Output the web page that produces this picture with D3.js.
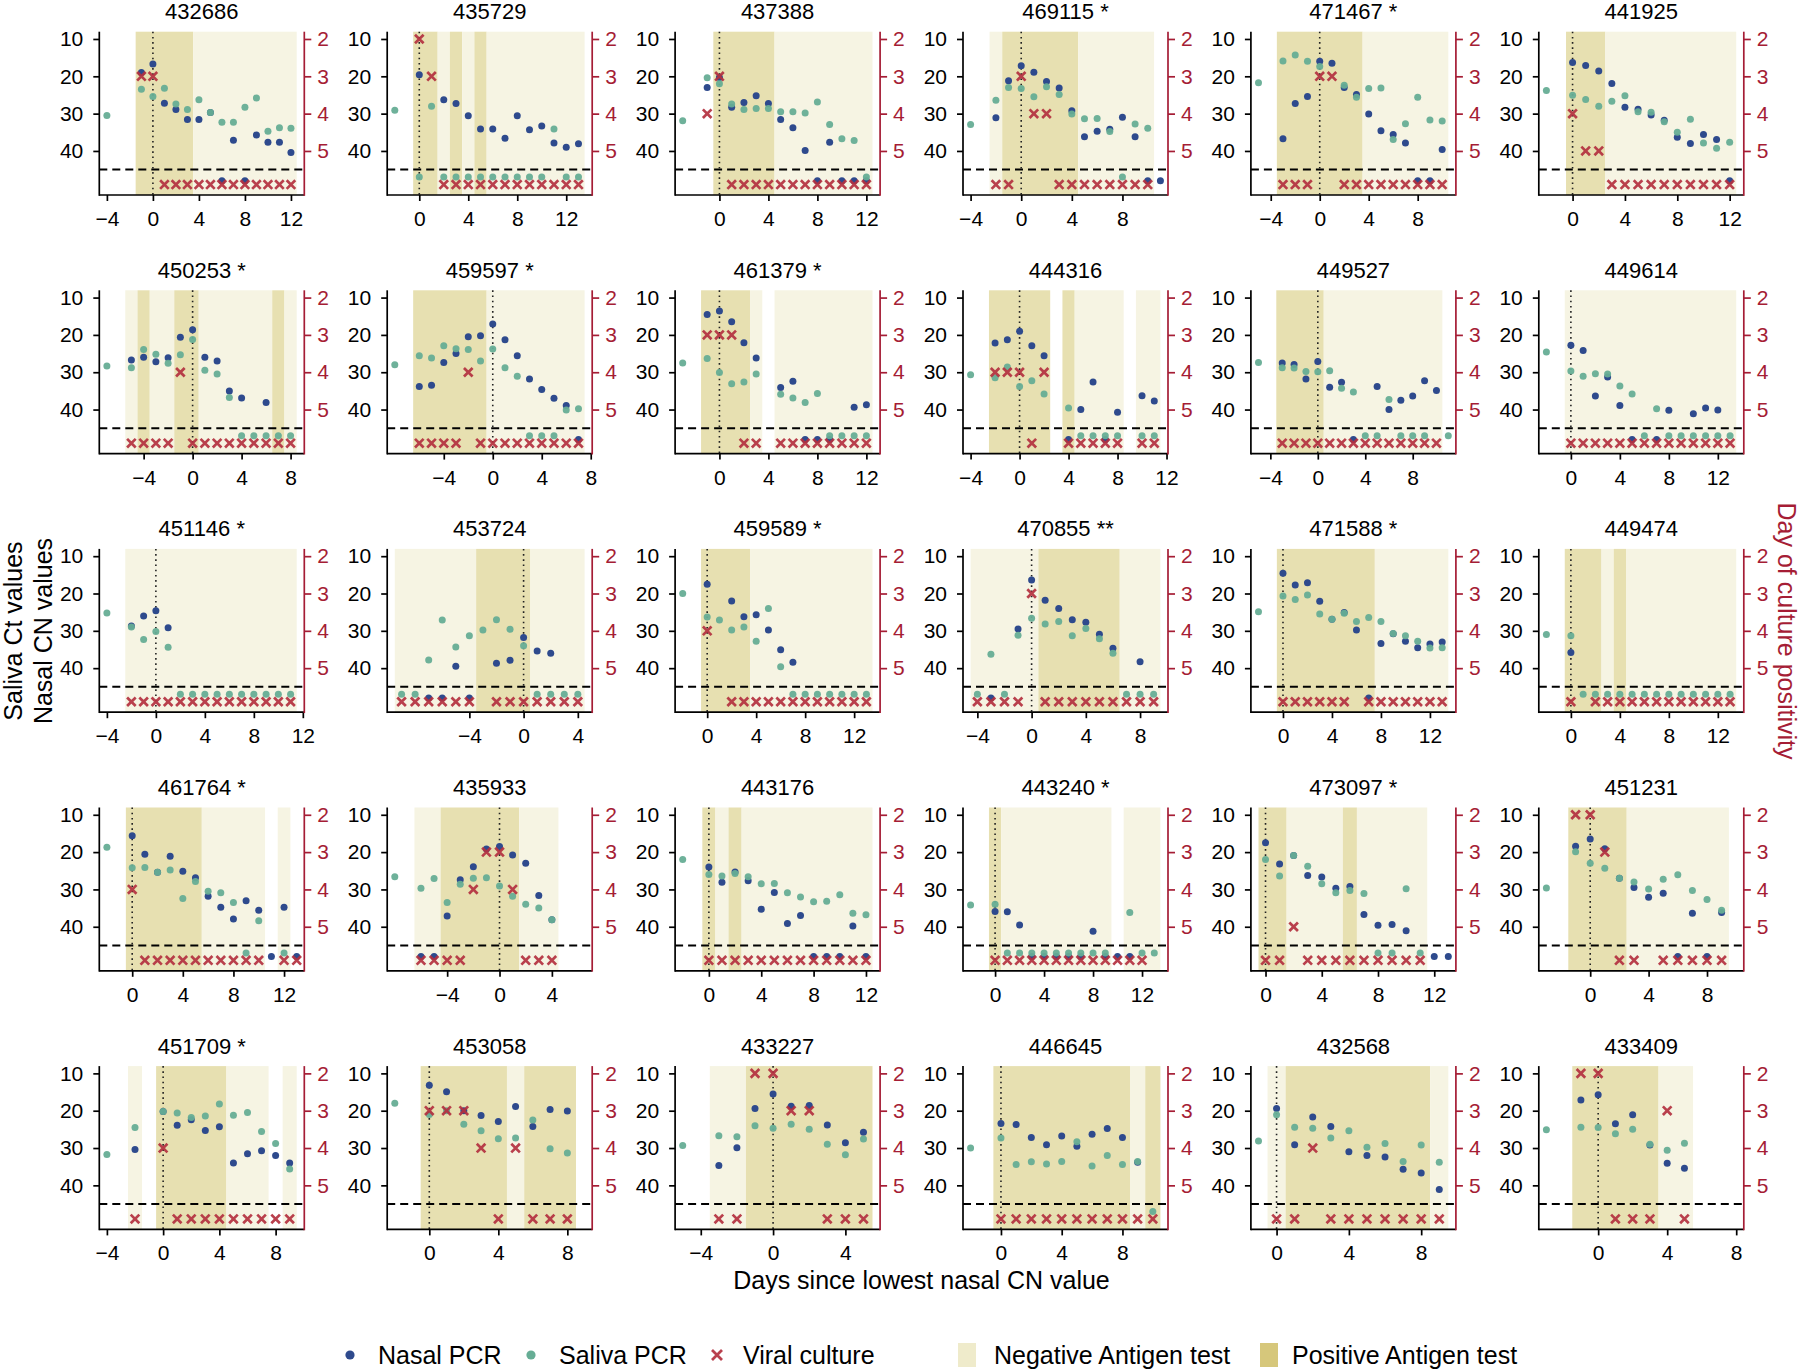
<!DOCTYPE html>
<html>
<head>
<meta charset="utf-8">
<script src="https://cdn.jsdelivr.net/npm/d3@7/dist/d3.min.js"></script>
<style>
  html, body { margin: 0; padding: 0; background: #ffffff; }
  svg { display: block; font-family: "Liberation Sans", Arial, Helvetica, sans-serif; font-weight: 400; }
</style>
</head>
<body>
<svg id="chart" width="1800" height="1369"></svg>
<script>
// ---------------- DATA ----------------
const titles = ["432686","435729","437388","469115 *","471467 *","441925",
  "450253 *","459597 *","461379 *","444316","449527","449614",
  "451146 *","453724","459589 *","470855 **","471588 *","449474",
  "461764 *","435933","443176","443240 *","473097 *","451231",
  "451709 *","453058","433227","446645","432568","433409"];

// x range (days) of each panel before the 4% axis extension
const xLimits = [[-4,12.5],[-2,13.5],[-3,12.5],[-4,11],[-5,10.5],[-2,12.5],
  [-7,8.5],[-8,7.5],[-3,12.5],[-4,11.5],[-5,11],[-2,13.5],
  [-4,11.5],[-9.5,4.5],[-2,13.5],[-4.5,9.5],[-2,13.5],[-2,13.5],
  [-2,13],[-8,6.5],[-2,12.5],[-2,13.5],[-0.5,13],[-3,10],
  [-4,9.5],[-2,9],[-5,5.5],[-2,10.5],[-1,9.5],[-3,8]];

// antigen test runs: [result, first day, last day]  (P = positive, N = negative)
const antigenRuns = [
  [["P",-1,3],["N",4,12]],
  [["P",0,1],["N",2,2],["P",3,3],["N",4,4],["P",5,5],["N",6,13]],
  [["P",0,4],["N",5,12]],
  [["N",-2,-2],["P",-1,4],["N",5,10]],
  [["P",-3,3],["N",4,10]],
  [["P",0,2],["N",3,12]],
  [["N",-5,-5],["P",-4,-4],["N",-3,-2],["P",-1,0],["N",1,6],["P",7,7],["N",8,8]],
  [["P",-6,-1],["N",0,7]],
  [["P",-1,2],["N",3,3],["N",5,12]],
  [["P",-2,2],["P",4,4],["N",5,8],["N",10,11]],
  [["P",-3,0],["N",1,10]],
  [["N",0,13]],
  [["N",-2,11]],
  [["N",-9,-4],["P",-3,0],["N",1,4]],
  [["P",0,3],["N",4,13]],
  [["N",-4,0],["P",1,6],["N",7,9]],
  [["P",0,7],["N",8,13]],
  [["P",0,2],["N",3,3],["P",4,4],["N",5,13]],
  [["P",0,5],["N",6,10],["N",12,12]],
  [["N",-6,-5],["P",-4,1],["N",2,4]],
  [["P",0,0],["N",1,1],["P",2,2],["N",3,12]],
  [["P",0,0],["N",1,9],["N",11,13]],
  [["P",0,1],["N",2,5],["P",6,6],["N",7,11]],
  [["P",-1,2],["N",3,9]],
  [["N",-2,-2],["P",0,4],["N",5,7],["N",9,9]],
  [["P",0,4],["N",5,5],["P",6,8]],
  [["N",-3,-2],["P",-1,5]],
  [["P",0,8],["N",9,9],["P",10,10]],
  [["N",0,0],["P",1,8],["N",9,9]],
  [["P",-1,3],["N",4,5]]
];

// nasal PCR CN values [day, value]
const nasalCN = [
  [[-1,19.0],[0,16.7],[1,27.2],[2,28.9],[3,31.6],[4,31.6],[5,29.7],[7,37.1],[9,35.7],[10,37.7],[11,37.7],[12,40.4]],
  [[0,19.6],[2,26.3],[3,27.3],[4,30.6],[5,34.1],[6,34.1],[7,36.6],[8,30.6],[9,34.3],[10,33.3],[11,37.9],[12,39.0],[13,38.1]],
  [[-1,23.0],[0,20.3],[1,28.3],[2,27.0],[3,25.2],[4,27.3],[5,31.6],[6,33.8],[7,39.9],[9,37.7]],
  [[-2,31.1],[-1,21.2],[0,17.2],[1,18.9],[2,21.4],[3,23.1],[4,29.2],[5,36.2],[6,34.7],[7,34.2],[8,31.0],[9,36.2]],
  [[-3,36.7],[-2,27.3],[-1,25.4],[0,16.0],[1,16.5],[2,23.0],[3,24.9],[4,30.1],[5,34.6],[6,35.6],[7,37.9],[10,39.6]],
  [[0,16.3],[1,17.1],[2,18.6],[3,21.9],[4,28.3],[5,28.8],[6,30.4],[7,31.8],[8,36.3],[9,38.0],[10,35.6],[11,36.9]],
  [[-5,26.7],[-4,26.0],[-3,27.2],[-2,26.1],[-1,20.6],[0,18.6],[1,26.0],[2,27.0],[3,35.0],[4,36.9],[6,38.1]],
  [[-6,33.8],[-5,33.5],[-4,27.4],[-3,25.0],[-2,20.5],[-1,20.2],[0,17.1],[1,21.3],[2,25.6],[3,31.8],[4,34.6],[5,37.0],[6,38.9]],
  [[-1,14.5],[0,13.6],[1,16.5],[2,22.1],[3,26.2],[5,34.1],[6,32.4],[11,39.4],[12,38.7]],
  [[-2,22.2],[-1,21.3],[0,19.0],[1,22.9],[2,25.6],[5,40.0],[6,32.6],[8,40.7],[10,36.3],[11,37.7]],
  [[-3,27.5],[-2,27.9],[-1,31.8],[0,27.1],[1,34.0],[2,32.7],[5,33.8],[6,40.0],[7,37.5],[8,36.4],[9,32.3],[10,34.9]],
  [[0,22.8],[1,24.2],[2,36.4],[3,31.3],[4,38.9],[8,40.2],[10,41.1],[11,39.6],[12,40.1]],
  [[-2,28.7],[-1,26.0],[0,24.6],[1,29.2]],
  [[-5,39.5],[-2,38.7],[-1,37.9],[0,31.8],[1,35.4],[2,36.0]],
  [[0,17.5],[2,22.0],[3,26.2],[4,25.7],[5,29.8],[6,35.1],[7,38.4]],
  [[-1,29.5],[0,16.4],[1,21.8],[2,24.0],[3,27.0],[4,27.7],[5,30.9],[6,34.7],[8,38.3]],
  [[0,14.6],[1,17.7],[2,17.1],[3,22.1],[4,26.9],[5,25.1],[6,29.8],[8,33.4],[9,30.8],[10,32.8],[11,34.5],[12,33.5],[13,33.0]],
  [[0,35.8]],
  [[0,15.6],[1,20.6],[2,25.4],[3,21.1],[4,25.1],[5,26.9],[6,31.8],[7,34.8],[8,37.9],[9,33.0],[10,35.6],[12,34.8]],
  [[-4,37.1],[-3,27.4],[-2,23.9],[-1,19.2],[0,18.5],[1,20.8],[2,23.0],[3,31.6],[4,38.1]],
  [[0,24.0],[1,28.1],[2,25.3],[3,27.7],[4,35.3],[5,30.8],[6,39.1],[7,37.0],[11,39.8]],
  [[0,35.9],[1,36.0],[2,39.5],[8,41.2]],
  [[0,17.5],[1,23.2],[2,20.9],[3,26.3],[4,26.7],[5,29.7],[6,29.2],[7,36.7],[8,39.6],[9,39.4],[10,41.1]],
  [[-1,18.4],[0,16.5],[1,19.1],[2,27.0],[3,29.5],[4,32.1],[5,31.0],[7,36.4],[9,36.2]],
  [[-2,30.4],[0,20.2],[1,23.9],[2,22.4],[3,25.3],[4,24.3],[5,34.0],[6,31.5],[7,30.7],[8,32.0],[9,34.0]],
  [[0,13.2],[1,14.9],[2,20.0],[3,21.3],[4,22.9],[5,18.9],[6,24.2],[7,19.7],[8,20.1]],
  [[-3,34.7],[-2,29.9],[-1,19.4],[0,15.5],[1,18.8],[2,18.6],[3,23.8],[4,28.6],[5,25.8]],
  [[0,23.4],[1,23.7],[2,27.2],[3,29.1],[4,26.8],[5,29.5],[6,26.3],[7,24.8],[8,27.2],[9,33.8]],
  [[0,19.4],[1,29.1],[2,21.7],[3,24.2],[4,31.0],[5,32.0],[6,32.4],[7,35.7],[8,36.7],[9,41.1]],
  [[-1,17.1],[0,15.7],[1,23.5],[2,21.1],[3,29.2],[4,34.1],[5,35.4]]
];
// days with a negative nasal PCR
const nasalNegDays = [
  [6,8],[],[8,10,11,12],[10,11],[8,9],[12],
  [],[7],[7,8,9],[4,7],[3],[5,7],
  [],[-7,-6,-4],[],[-3],[7],[],
  [11,13],[-6,-5],[8,9,10,12],[3,4,5,6,7,9,10,11],[12,13],[6,8],
  [],[],[],[],[],[]
];

// saliva PCR Ct values [day, value]
const salivaCt = [
  [[-4,30.5],[-1,23.5],[0,25.4],[1,23.2],[2,27.4],[3,28.9],[4,26.3],[5,29.7],[6,32.3],[7,32.3],[8,28.3],[9,25.8],[10,34.7],[11,33.8],[12,33.9]],
  [[-2,29.1],[1,28.0],[11,34.1]],
  [[-3,31.9],[-1,20.4],[0,22.0],[1,27.4],[2,28.9],[3,28.6],[4,28.6],[5,29.5],[6,29.5],[7,29.8],[8,26.9],[9,32.9],[10,36.7],[11,37.2]],
  [[-4,32.9],[-2,26.4],[-1,23.0],[0,23.3],[1,25.5],[2,22.8],[3,24.9],[4,30.1],[5,31.4],[6,31.3],[7,34.8],[9,32.8],[10,33.9]],
  [[-5,21.7],[-3,15.9],[-2,14.3],[-1,16.0],[0,17.4],[2,22.4],[3,25.6],[4,23.3],[5,23.1],[6,36.9],[7,32.7],[8,25.6],[9,31.7],[10,32.0]],
  [[-2,23.8],[0,25.1],[1,26.2],[2,28.0],[3,26.7],[4,25.2],[5,29.5],[6,29.6],[7,32.2],[8,35.0],[9,31.5],[10,37.9],[11,39.3],[12,37.7]],
  [[-7,28.3],[-5,28.8],[-4,23.9],[-3,25.2],[-2,27.6],[-1,25.3],[0,21.2],[1,29.5],[2,30.5],[3,36.8]],
  [[-8,28.0],[-6,25.6],[-5,26.2],[-4,22.9],[-3,23.7],[-2,23.9],[-1,27.0],[0,23.8],[1,28.8],[2,31.1],[6,40.1],[7,39.8]],
  [[-3,27.5],[-1,26.3],[0,30.1],[1,33.1],[2,32.6],[3,30.5],[5,35.9],[6,36.9],[7,38.1],[8,35.7]],
  [[-4,30.7],[-2,31.5],[-1,28.6],[0,33.8],[1,32.3],[2,35.8],[4,39.6]],
  [[-5,27.4],[-3,28.8],[-2,28.9],[-1,29.8],[0,29.9],[1,29.6],[2,34.3],[3,35.3],[6,37.3]],
  [[-2,24.6],[0,29.7],[1,31.1],[2,30.4],[3,30.5],[4,33.7],[5,35.8],[7,39.8]],
  [[-4,25.2],[-2,29.0],[-1,32.3],[0,30.2],[1,34.4]],
  [[-7,37.8],[-6,27.1],[-5,34.3],[-4,31.3],[-3,29.8],[-2,27.0],[-1,29.6],[0,34.0]],
  [[-2,20.0],[0,26.3],[1,27.1],[2,29.8],[3,29.0],[4,32.8],[5,24.0],[6,39.6]],
  [[-3,36.3],[-1,31.2],[0,26.6],[1,28.2],[2,27.5],[3,31.3],[4,29.4],[5,32.1],[6,36.0]],
  [[-2,24.9],[0,20.7],[1,21.6],[2,20.4],[3,25.5],[4,26.9],[5,25.3],[6,27.5],[7,26.4],[8,27.5],[9,30.7],[10,31.3],[11,32.8],[12,34.6],[13,34.5]],
  [[-2,31.0],[0,31.3]],
  [[-2,18.7],[0,24.2],[1,24.1],[2,25.4],[3,24.8],[4,32.4],[5,27.9],[6,30.5],[7,30.9],[8,33.5],[10,38.4]],
  [[-8,26.6],[-6,29.7],[-5,27.1],[-4,33.5],[-3,28.6],[-2,27.0],[-1,26.9],[0,29.1],[1,31.8],[2,34.0],[3,35.0],[4,38.1]],
  [[-2,22.0],[0,26.0],[1,26.4],[2,25.7],[3,26.6],[4,28.5],[5,28.4],[6,30.9],[7,32.0],[8,33.3],[9,33.2],[10,31.4],[11,36.4],[12,36.8]],
  [[-2,34.2],[0,34.0],[11,36.2]],
  [[0,22.0],[1,26.4],[2,20.9],[3,23.8],[4,28.5],[5,30.9],[6,30.3],[7,31.1],[10,29.8]],
  [[-3,29.6],[-1,19.9],[0,23.0],[1,24.3],[2,27.0],[3,28.0],[4,29.9],[5,27.3],[6,26.1],[7,30.3],[8,32.7],[9,35.6]],
  [[-4,31.7],[-2,24.5],[0,20.2],[1,20.6],[2,21.8],[3,21.4],[4,18.2],[5,21.2],[6,20.5],[7,25.6],[8,28.8],[9,35.6]],
  [[-2,18.0],[0,21.0],[1,20.0],[2,23.6],[3,25.4],[4,27.5],[5,27.3],[6,22.5],[7,30.2],[8,31.3]],
  [[-5,29.3],[-3,26.7],[-2,27.0],[-1,24.0],[0,24.7],[1,23.6],[2,25.0],[3,29.0],[4,31.8],[5,27.6]],
  [[-2,30.0],[0,27.3],[1,34.4],[2,33.7],[3,34.3],[4,33.6],[5,28.3],[6,34.8],[7,32.0],[8,34.4],[9,33.6]],
  [[-1,28.1],[0,21.1],[1,24.4],[2,24.7],[3,27.3],[4,25.4],[5,29.8],[6,28.8],[7,33.6],[8,29.2],[9,33.8]],
  [[-3,25.1],[-1,24.4],[0,24.5],[1,26.2],[2,25.0],[3,29.0],[4,30.6],[5,28.7]]
];
// days with a negative saliva PCR
const salivaNegDays = [
  [],[0,2,3,4,5,6,7,8,9,10,12,13],[12],[8],[],[],
  [4,5,6,7,8],[3,4,5],[9,10,11,12],[5,6,7,8,10,11],[4,5,7,8,9,11],[6,8,9,10,11,12,13],
  [2,3,4,5,6,7,8,9,10,11],[-9,-8,1,2,3,4],[7,8,9,10,11,12,13],[-4,-2,7,8,9],[],[1,2,3,4,5,6,7,8,9,10,11,12,13],
  [9,12],[],[],[1,2,3,4,5,6,7,8,9,12,13],[8,9,11],[],
  [],[],[],[10],[],[]
];

// viral culture positive: [day, day of culture positivity]
const culturePositive = [
  [[-1,3],[0,3]],[[0,2],[1,3]],[[-1,4],[0,3]],[[0,3],[1,4],[2,4]],[[0,3],[1,3]],[[0,4],[1,5],[2,5]],
  [[-1,4]],[[-2,4]],[[-1,3],[0,3],[1,3]],[[-2,4],[-1,4],[0,4],[2,4]],[],[],
  [],[],[[0,4]],[[0,3]],[],[],
  [[0,4]],[[-2,4],[-1,3],[0,3],[1,4]],[],[],[[2,5]],[[-1,2],[0,2],[1,3]],
  [[0,4]],[[0,3],[1,3],[2,3],[3,4],[5,4]],[[-1,2],[0,2],[1,3],[2,3]],[],[[2,4]],[[-1,2],[0,2],[4,3]]
];
// days with a negative viral culture
const cultureNegDays = [
  [1,2,3,4,5,6,7,8,9,10,11,12],
  [2,3,4,5,6,7,8,9,10,11,12,13],
  [1,2,3,4,5,6,7,8,9,10,11,12],
  [-2,-1,3,4,5,6,7,8,9,10],
  [-3,-2,-1,2,3,4,5,6,7,8,9,10],
  [3,4,5,6,7,8,9,10,11,12],
  [-5,-4,-3,-2,0,1,2,3,4,5,6,7,8],
  [-6,-5,-4,-3,-1,0,1,2,3,4,5,6,7],
  [2,3,5,6,7,8,9,10,11,12],
  [1,4,5,6,7,8,10,11],
  [-3,-2,-1,0,1,2,3,4,5,6,7,8,9,10],
  [0,1,2,3,4,5,6,7,8,9,10,11,12,13],
  [-2,-1,0,1,2,3,4,5,6,7,8,9,10,11],
  [-9,-8,-7,-6,-5,-4,-2,-1,0,1,2,3,4],
  [2,3,4,5,6,7,8,9,10,11,12,13],
  [-4,-3,-2,-1,1,2,3,4,5,6,7,8,9],
  [0,1,2,3,4,5,7,8,9,10,11,12,13],
  [0,2,3,4,5,6,7,8,9,10,11,12,13],
  [1,2,3,4,5,6,7,8,9,10,12,13],
  [-6,-5,-4,-3,2,3,4],
  [0,1,2,3,4,5,6,7,8,9,10,11,12],
  [0,1,2,3,4,5,6,7,8,9,10,11,12],
  [0,1,3,4,5,6,7,8,9,10,11],
  [2,3,5,6,7,8,9],
  [-2,1,2,3,4,5,6,7,8,9],
  [4,6,7,8],
  [-3,-2,3,4,5],
  [0,1,2,3,4,5,6,7,8,9,10],
  [0,1,3,4,5,6,7,8,9],
  [1,2,3,5]
];

const xTickCandidates = [-4, 0, 4, 8, 12];
const leftTickValues = [10, 20, 30, 40];
const rightTickValues = [2, 3, 4, 5];
const limitOfDetection = 45;

const legendLabels = ["Nasal PCR", "Saliva PCR", "Viral culture", "Negative Antigen test", "Positive Antigen test"];

// ---------------- STYLE / LAYOUT ----------------
const FONT = '"Liberation Sans", Arial, Helvetica, sans-serif';
const C = {
  nasal: "#2e4a8d", saliva: "#66ad95", culture: "#b3303f",
  red: "#a51d35", posShade: "#e7e0b1", negShade: "#f6f4e3",
  posLegend: "#d6c77b", negLegend: "#efebcb"
};
const L = { left0: 99.3, colPitch: 287.9, plotW: 205, top0: 31.7, rowPitch: 258.6, plotH: 163.3 };
const TICK_FS = 21, TITLE_FS = 22, BIG_FS = 25;

const svg = d3.select("#chart");
svg.append("rect").attr("width", 1800).attr("height", 1369).attr("fill", "#fff");

function drawX(g, cx, cy, s, sw) {
  g.append("path")
    .attr("d", `M${cx - s},${cy - s}L${cx + s},${cy + s}M${cx - s},${cy + s}L${cx + s},${cy - s}`)
    .attr("stroke", C.culture).attr("stroke-width", sw).attr("stroke-linecap", "butt")
    .attr("fill", "none").attr("opacity", 0.92);
}
function styleAxis(sel, color) {
  sel.attr("font-family", FONT).attr("font-size", TICK_FS);
  sel.select(".domain").remove();
  sel.selectAll("line").attr("stroke", color).attr("stroke-width", 1.7);
  sel.selectAll("text").attr("fill", color);
}

titles.forEach((title, i) => {
  const r = Math.floor(i / 6), c = i % 6;
  const left = L.left0 + c * L.colPitch, right = left + L.plotW;
  const top = L.top0 + r * L.rowPitch, bottom = top + L.plotH;
  const [lo, hi] = xLimits[i];
  const ext = 0.04 * (hi - lo);
  const x = d3.scaleLinear().domain([lo - ext, hi + ext]).range([left, right]);
  const yL = d3.scaleLinear().domain([8.05, 51.8]).range([top, bottom]);
  const yR = d3.scaleLinear().domain([1.805, 6.18]).range([top, bottom]);
  const g = svg.append("g");

  // antigen shading
  antigenRuns[i].forEach(([res, a, b]) => {
    g.append("rect")
      .attr("x", x(a - 0.5)).attr("y", top)
      .attr("width", x(b + 0.5) - x(a - 0.5)).attr("height", bottom - top)
      .attr("fill", res === "P" ? C.posShade : C.negShade);
  });

  // limit line and day-0 line
  g.append("line").attr("x1", left).attr("x2", right + 2)
    .attr("y1", yL(limitOfDetection)).attr("y2", yL(limitOfDetection))
    .attr("stroke", "#000").attr("stroke-width", 2).attr("stroke-dasharray", "8,5");
  g.append("line").attr("x1", x(0)).attr("x2", x(0)).attr("y1", top).attr("y2", bottom)
    .attr("stroke", "#222").attr("stroke-width", 1.6).attr("stroke-dasharray", "1.6,3.6");

  // nasal points
  nasalCN[i].forEach(([d, v]) => g.append("circle").attr("cx", x(d)).attr("cy", yL(v)).attr("r", 3.5).attr("fill", C.nasal));
  nasalNegDays[i].forEach(d => g.append("circle").attr("cx", x(d)).attr("cy", yL(48)).attr("r", 3.5).attr("fill", C.nasal));
  // saliva points
  salivaCt[i].forEach(([d, v]) => g.append("circle").attr("cx", x(d)).attr("cy", yL(v)).attr("r", 3.5).attr("fill", C.saliva).attr("fill-opacity", 0.95));
  salivaNegDays[i].forEach(d => g.append("circle").attr("cx", x(d)).attr("cy", yL(47)).attr("r", 3.5).attr("fill", C.saliva).attr("fill-opacity", 0.95));
  // culture
  culturePositive[i].forEach(([d, v]) => drawX(g, x(d), yR(v), 4.3, 2.7));
  cultureNegDays[i].forEach(d => drawX(g, x(d), yR(5.9), 4.3, 2.7));

  // axes
  styleAxis(g.append("g").attr("transform", `translate(${left},0)`)
    .call(d3.axisLeft(yL).tickValues(leftTickValues).tickSize(6).tickPadding(10)), "#000");
  styleAxis(g.append("g").attr("transform", `translate(${right},0)`)
    .call(d3.axisRight(yR).tickValues(rightTickValues).tickSize(7).tickPadding(6).tickFormat(d3.format("d"))), C.red);
  const xt = xTickCandidates.filter(t => t >= lo - ext && t <= hi + ext);
  styleAxis(g.append("g").attr("transform", `translate(0,${bottom})`)
    .call(d3.axisBottom(x).tickValues(xt).tickSize(6).tickPadding(10)), "#000");

  // frame lines
  g.append("line").attr("x1", left).attr("x2", left).attr("y1", top).attr("y2", bottom + 0.85).attr("stroke", "#000").attr("stroke-width", 1.7);
  g.append("line").attr("x1", left).attr("x2", right).attr("y1", bottom).attr("y2", bottom).attr("stroke", "#000").attr("stroke-width", 1.7);
  g.append("line").attr("x1", right).attr("x2", right).attr("y1", top).attr("y2", bottom + 0.85).attr("stroke", C.red).attr("stroke-width", 1.7);

  // title
  g.append("text").attr("x", (left + right) / 2).attr("y", top - 12.5)
    .attr("text-anchor", "middle").attr("font-size", TITLE_FS).attr("font-weight", 400)
    .attr("fill", "#000").text(title);
});

// axis titles
svg.append("text").attr("transform", "translate(22,631) rotate(-90)").attr("text-anchor", "middle")
  .attr("font-size", BIG_FS).text("Saliva Ct values");
svg.append("text").attr("transform", "translate(52,631) rotate(-90)").attr("text-anchor", "middle")
  .attr("font-size", BIG_FS).text("Nasal CN values");
svg.append("text").attr("transform", "translate(1778,631) rotate(90)").attr("text-anchor", "middle")
  .attr("font-size", BIG_FS).attr("fill", C.red).text("Day of culture positivity");
svg.append("text").attr("x", 921.5).attr("y", 1289).attr("text-anchor", "middle")
  .attr("font-size", BIG_FS).text("Days since lowest nasal CN value");

// legend
const ly = 1355;
const leg = svg.append("g");
leg.append("circle").attr("cx", 350).attr("cy", ly).attr("r", 4.6).attr("fill", C.nasal);
leg.append("text").attr("x", 378).attr("y", ly + 9).attr("font-size", BIG_FS).text(legendLabels[0]);
leg.append("circle").attr("cx", 531).attr("cy", ly).attr("r", 4.6).attr("fill", C.saliva);
leg.append("text").attr("x", 559).attr("y", ly + 9).attr("font-size", BIG_FS).text(legendLabels[1]);
drawX(leg, 717, ly, 5, 2.8);
leg.append("text").attr("x", 743).attr("y", ly + 9).attr("font-size", BIG_FS).text(legendLabels[2]);
leg.append("rect").attr("x", 958).attr("y", ly - 12).attr("width", 18).attr("height", 24).attr("fill", C.negLegend);
leg.append("text").attr("x", 994).attr("y", ly + 9).attr("font-size", BIG_FS).text(legendLabels[3]);
leg.append("rect").attr("x", 1260).attr("y", ly - 12).attr("width", 18).attr("height", 24).attr("fill", C.posLegend);
leg.append("text").attr("x", 1292).attr("y", ly + 9).attr("font-size", BIG_FS).text(legendLabels[4]);
</script>
</body>
</html>
